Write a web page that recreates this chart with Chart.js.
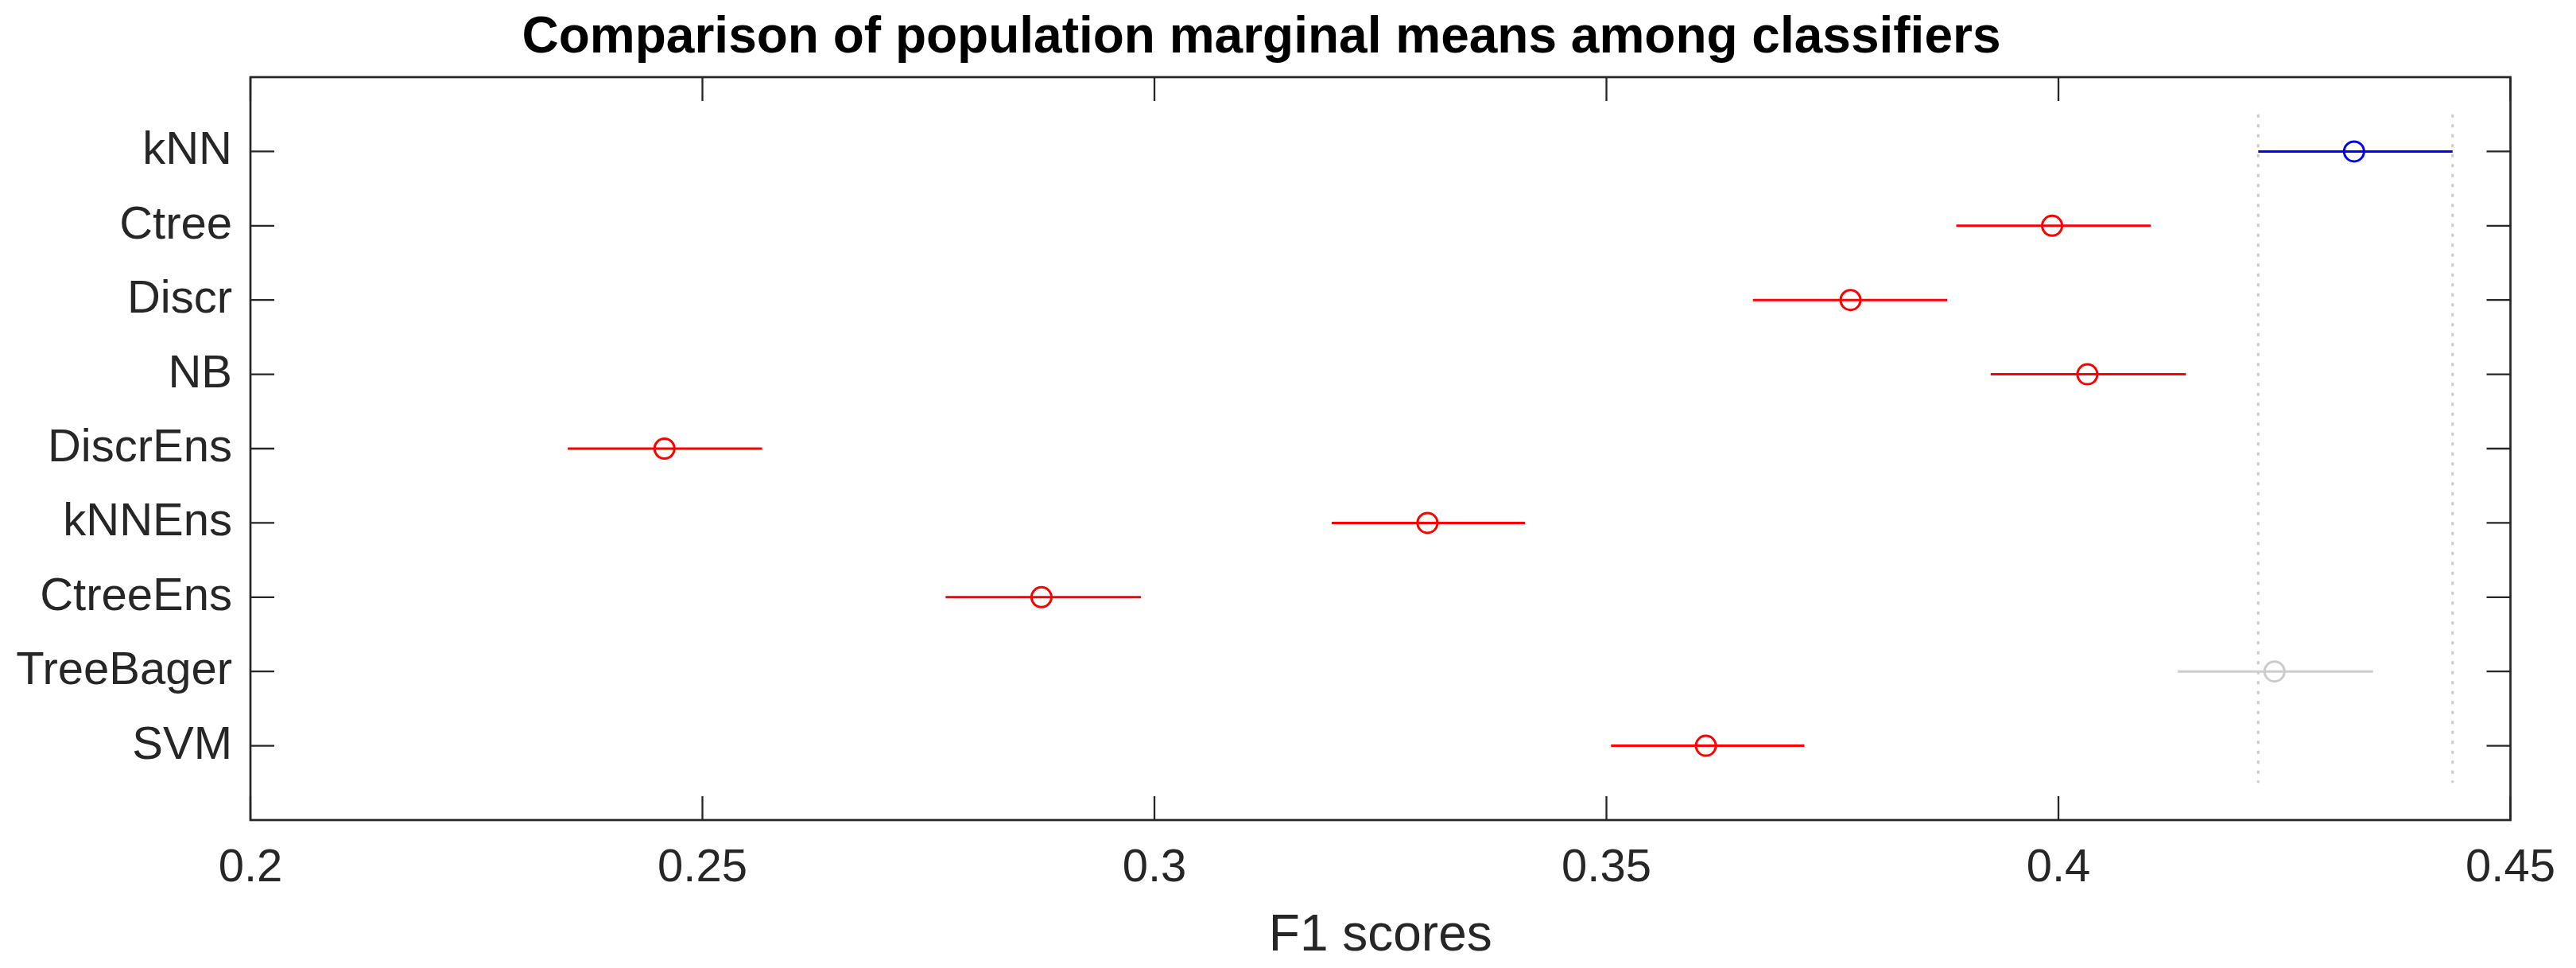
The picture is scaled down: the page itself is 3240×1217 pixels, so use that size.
<!DOCTYPE html>
<html>
<head>
<meta charset="utf-8">
<style>
  html, body { margin: 0; padding: 0; background: #ffffff; }
  #wrap { width: 3240px; height: 1217px; }
</style>
<script src="https://cdn.jsdelivr.net/npm/chart.js@4.4.1/dist/chart.umd.min.js"></script>
</head>
<body>
<div id="wrap"><canvas id="c" width="3240" height="1217"></canvas></div>
<script>
// ---- data ----
const classifiers = ["kNN", "Ctree", "Discr", "NB", "DiscrEns", "kNNEns", "CtreeEns", "TreeBager", "SVM"];
const means       = [0.4327, 0.3993, 0.3770, 0.4032, 0.2458, 0.3302, 0.2875, 0.4239, 0.3610];
const lowerCI     = [0.4221, 0.3887, 0.3662, 0.3925, 0.2351, 0.3196, 0.2769, 0.4132, 0.3505];
const upperCI     = [0.4436, 0.4102, 0.3877, 0.4141, 0.2566, 0.3410, 0.2985, 0.4348, 0.3719];
const groupColors = ["#0000ff", "#ff0000", "#ff0000", "#ff0000", "#ff0000", "#ff0000", "#ff0000", "#cccccc", "#ff0000"];
const xTickValues = [0.2, 0.25, 0.3, 0.35, 0.4, 0.45];
const xTickLabels = ["0.2", "0.25", "0.3", "0.35", "0.4", "0.45"];
const refIndex = 0; // kNN is the selected group; dotted lines mark its interval

const FONT = "'Liberation Sans', Arial, Helvetica, sans-serif";
const AXIS_COLOR = "#262626";

// ---- datasets ----
const datasets = [];
// marker dataset (on top)
datasets.push({
  label: "means",
  type: "scatter",
  data: means.map((m, i) => ({ x: m, y: i + 1 })),
  pointStyle: "circle",
  pointRadius: 12.5,
  pointBorderWidth: 3,
  pointBorderColor: groupColors,
  pointBackgroundColor: "rgba(0,0,0,0)",
  showLine: false,
  order: 0
});
// interval lines
classifiers.forEach((name, i) => {
  datasets.push({
    label: name + " interval",
    type: "line",
    data: [{ x: lowerCI[i], y: i + 1 }, { x: upperCI[i], y: i + 1 }],
    borderColor: groupColors[i],
    borderWidth: 3,
    pointRadius: 0,
    fill: false,
    tension: 0,
    order: 1
  });
});
// dotted reference lines at bounds of the selected group
[lowerCI[refIndex], upperCI[refIndex]].forEach((v, k) => {
  datasets.push({
    label: "ref" + k,
    type: "line",
    data: [{ x: v, y: 0.5 }, { x: v, y: classifiers.length + 0.5 }],
    borderColor: "#cccccc",
    borderWidth: 3,
    borderDash: [4, 8.5],
    pointRadius: 0,
    fill: false,
    order: 2
  });
});

// ---- frame + inward ticks plugin ----
const frameTicks = {
  id: "frameTicks",
  afterDraw(chart) {
    const { ctx, chartArea, scales } = chart;
    const { left, right, top, bottom } = chartArea;
    const x = scales.x, y = scales.y;
    const TL = 30;
    ctx.save();
    ctx.strokeStyle = AXIS_COLOR;
    ctx.lineWidth = 2.3;
    ctx.beginPath();
    x.ticks.forEach(t => {
      const px = x.getPixelForValue(t.value);
      ctx.moveTo(px, bottom); ctx.lineTo(px, bottom - TL);
      ctx.moveTo(px, top); ctx.lineTo(px, top + TL);
    });
    y.ticks.forEach(t => {
      const py = y.getPixelForValue(t.value);
      ctx.moveTo(left, py); ctx.lineTo(left + TL, py);
      ctx.moveTo(right, py); ctx.lineTo(right - TL, py);
    });
    ctx.stroke();
    ctx.lineWidth = 2.7;
    ctx.strokeRect(left, top, right - left, bottom - top);
    ctx.restore();
  }
};

new Chart(document.getElementById("c"), {
  type: "scatter",
  data: { datasets },
  plugins: [frameTicks],
  options: {
    responsive: false,
    devicePixelRatio: 1,
    animation: false,
    layout: { padding: { left: 0, right: 67, top: 0, bottom: 0 } },
    plugins: {
      legend: { display: false },
      tooltip: { enabled: false },
      title: {
        display: true,
        text: "Comparison of population marginal means among classifiers",
        color: "#000000",
        font: { family: FONT, size: 64, weight: "bold", lineHeight: 1.2 },
        padding: { top: 10, bottom: 10.2 }
      }
    },
    scales: {
      x: {
        type: "linear",
        min: 0.2,
        max: 0.45,
        afterBuildTicks: s => { s.ticks = xTickValues.map(v => ({ value: v })); },
        afterFit: s => { s.height = 186; },
        grid: { display: false, drawTicks: false },
        border: { display: false },
        ticks: {
          color: AXIS_COLOR,
          padding: 26,
          maxRotation: 0,
          autoSkip: false,
          font: { family: FONT, size: 58, lineHeight: 1.2 },
          callback: (v, i) => xTickLabels[i]
        },
        title: {
          display: true,
          text: "F1 scores",
          color: AXIS_COLOR,
          font: { family: FONT, size: 64, lineHeight: 1.2 },
          padding: { top: 0, bottom: 1 }
        }
      },
      y: {
        type: "linear",
        min: 0,
        max: classifiers.length + 1,
        reverse: true,
        afterBuildTicks: s => { s.ticks = classifiers.map((c, i) => ({ value: i + 1 })); },
        afterFit: s => { s.width = 315; },
        grid: { display: false, drawTicks: false },
        border: { display: false },
        ticks: {
          color: AXIS_COLOR,
          padding: 23,
          autoSkip: false,
          font: { family: FONT, size: 58, lineHeight: 1.2 },
          callback: (v) => classifiers[Math.round(v) - 1]
        }
      }
    }
  }
});
</script>
</body>
</html>
